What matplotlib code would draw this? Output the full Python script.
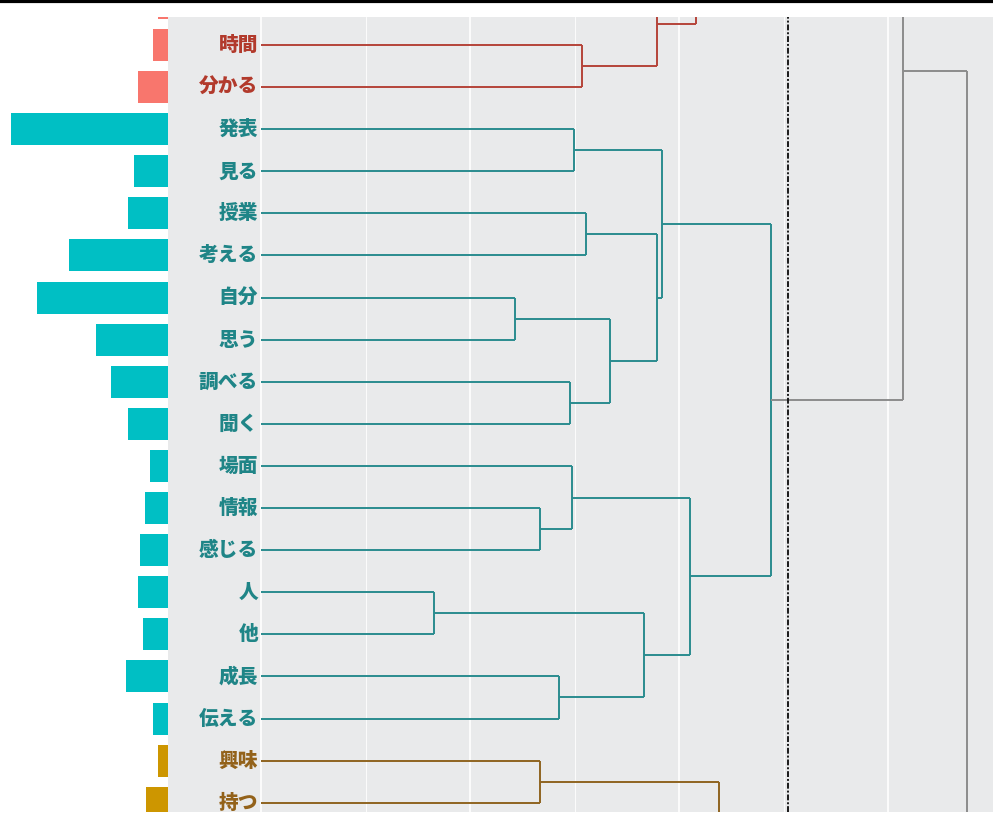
import matplotlib.pyplot as plt
from matplotlib.lines import Line2D

plt.rcParams['font.family'] = ['Noto Sans CJK JP', 'DejaVu Sans']

# leaves from top to bottom (the first one is cut off at the top edge)
words = ['', '時間', '分かる', '発表', '見る', '授業', '考える', '自分', '思う', '調べる', '聞く',
         '場面', '情報', '感じる', '人', '他', '成長', '伝える', '興味', '持つ']
freq = [5, 7.5, 15, 78.5, 17, 20, 49.5, 65.5, 36, 28.5, 20, 9, 11.5, 14, 15, 12.5, 21, 7.5, 5, 11]
group = ['r'] * 3 + ['t'] * 15 + ['o'] * 2

# branches that sit outside the cropped picture: name -> (centre, height, cluster)
outside = {'up1': (-0.5, 0.55, 'r'), 'up2': (-12.9, 0.9, 'r'),
           'down1': (21.5, 0.9, 'o'), 'down2': (24.0, 1.3, 'g')}

# merges: (node, child a, child b, height, cluster)
merges = [
    ('m1', '時間', '分かる', 0.768, 'r'),
    ('m2', 'up1', 'm1', 0.947, 'r'),
    ('m3', 'up2', 'm2', 1.041, 'r'),
    ('t1', '発表', '見る', 0.749, 't'),
    ('t2', '授業', '考える', 0.778, 't'),
    ('t3', '自分', '思う', 0.608, 't'),
    ('t4', '調べる', '聞く', 0.739, 't'),
    ('t5', 't3', 't4', 0.835, 't'),
    ('t6', 't2', 't5', 0.947, 't'),
    ('t7', 't1', 't6', 0.959, 't'),
    ('t8', '情報', '感じる', 0.667, 't'),
    ('t9', '場面', 't8', 0.744, 't'),
    ('t10', '人', '他', 0.414, 't'),
    ('t11', '成長', '伝える', 0.713, 't'),
    ('t12', 't10', 't11', 0.916, 't'),
    ('t13', 't9', 't12', 1.026, 't'),
    ('t14', 't7', 't13', 1.220, 't'),
    ('g1', 'm3', 't14', 1.536, 'g'),
    ('g2', 'g1', 'down2', 1.689, 'g'),
    ('o1', '興味', '持つ', 0.667, 'o'),
    ('o2', 'o1', 'down1', 1.096, 'o'),
]
cut_height = 1.261

bar_col = {'r': '#F8766D', 't': '#00BFC4', 'o': '#CD9600'}
line_col = {'r': '#B5443A', 't': '#2A8C8F', 'o': '#8F6420', 'g': '#8C8C8C'}
text_col = {'r': '#B23A2C', 't': '#1F8587', 'o': '#93621A'}

W, H = 993, 821
fig = plt.figure(figsize=(W / 100, H / 100), dpi=100)
top_px, bot_px, split_px = 17, 812, 168
ax_b = fig.add_axes([0, (H - bot_px) / H, split_px / W, (bot_px - top_px) / H])
ax = fig.add_axes([split_px / W, (H - bot_px) / H, 1 - split_px / W, (bot_px - top_px) / H])

ylim = (19.22, 0.335)

# frequency bars
pos = list(range(len(words)))
ax_b.barh(pos, freq, height=0.76, color=[bar_col[g] for g in group])
ax_b.set_xlim(84, 0)
ax_b.set_ylim(*ylim)
ax_b.axis('off')

# dendrogram
ax.set_facecolor('#E9EAEB')
for s in ax.spines.values():
    s.set_visible(False)
ax.set_xlim(-0.2225, 1.751)
ax.set_ylim(*ylim)
ax.set_xticks([0, 0.5, 1.0, 1.5])
ax.set_xticks([0.25, 0.75, 1.25], minor=True)
ax.set_yticks([])
ax.tick_params(which='both', length=0, labelbottom=False)
ax.grid(which='major', axis='x', color='white', lw=1.2)
ax.grid(which='minor', axis='x', color='white', lw=0.6)
ax.set_axisbelow(True)

node = {w: (i, 0.0) for i, w in enumerate(words) if w}
node.update({k: (v[0], v[1]) for k, v in outside.items()})
for name, a, b, h, c in merges:
    (pa, ha), (pb, hb) = node[a], node[b]
    col = line_col[c]
    ax.plot([ha, h], [pa, pa], color=col, lw=1.4, solid_capstyle='butt')
    ax.plot([hb, h], [pb, pb], color=col, lw=1.4, solid_capstyle='butt')
    ax.plot([h, h], [pa, pb], color=col, lw=1.4, solid_capstyle='butt')
    node[name] = ((pa + pb) / 2, h)

for i, w in enumerate(words):
    if w:
        ax.text(-0.007, i, w, ha='right', va='center', fontsize=14.2,
                fontweight='heavy', color=text_col[group[i]])

ax.axvline(cut_height, color='#1A1A1A', lw=1.4, linestyle=(0, (3, 1, 1, 1)))

# black rule along the top edge
fig.add_artist(Line2D([0, 1], [1 - 1.5 / H, 1 - 1.5 / H], color='black', lw=2.3,
                      transform=fig.transFigure))

fig.savefig('out.png', dpi=100)
